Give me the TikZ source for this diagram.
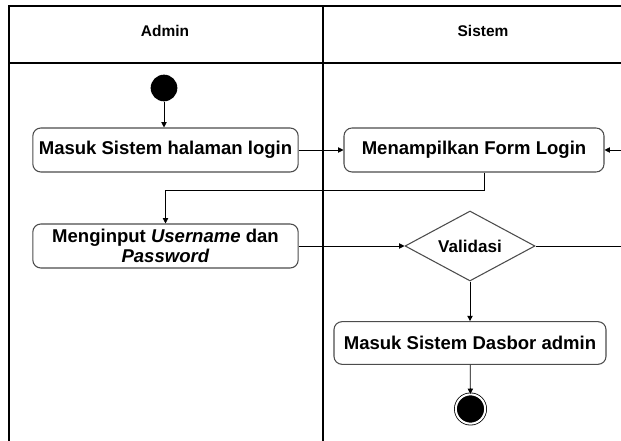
\documentclass[tikz,border=0pt]{standalone}
\usepackage{fontspec}
\setmainfont{Liberation Sans}
\usetikzlibrary{shapes.geometric,arrows.meta}

\tikzset{
  act/.style={draw=black!70, line width=0.8pt, rounded corners=6pt, inner sep=0pt,
    minimum height=33pt, align=center, font=\fontsize{13.9}{15.5}\selectfont\bfseries},
  lanehead/.style={font=\fontsize{11.6}{13}\selectfont\bfseries},
  flow/.style={-{Triangle[length=4pt,width=4pt]}, line width=0.6pt},
  lane/.style={line width=0.8pt}
}

\begin{document}
\begin{tikzpicture}[x=0.75pt,y=-0.75pt]
\useasboundingbox (0,0) rectangle (621,441);

% swimlanes
\draw[lane] (621,6) -- (9,6) -- (9,441);
\draw[lane] (9,63) -- (621,63);
\draw[lane] (323,6) -- (323,441);
\node[lanehead] (admin) at (165,31) {Admin};
\node[lanehead] (sistem) at (483,31) {Sistem};

% start
\node[circle, fill=black, minimum size=20pt, inner sep=0pt] (start) at (164,88) {};

% admin lane
\node[act, minimum width=199pt] (login) at (165.5,150) {Masuk Sistem halaman login};
\node[act, minimum width=199pt] (input) at (165.5,246) {Menginput \textit{Username} dan\\ \textit{Password}};

% sistem lane
\node[act, minimum width=195pt] (form) at (474,150) {Menampilkan Form Login};
\node[diamond, aspect=2, draw=black!70, line width=0.8pt, inner sep=0pt, minimum width=97.5pt,
  minimum height=52.5pt, font=\fontsize{12.8}{14}\selectfont\bfseries] (valid) at (470,246) {Validasi};
\node[act, minimum width=204pt, minimum height=32pt] (dasbor) at (470,343) {Masuk Sistem Dasbor admin};

% end
\node[circle, fill=black, draw=black, line width=0.6pt, double=white, double distance=1.5pt,
  minimum size=22pt, inner sep=0pt] (stop) at (470.5,409) {};

% loose ends at the right edge
\coordinate (backin) at (621,150);
\coordinate (failout) at (621,246);

% flows
\draw[flow] (start) -- (start |- login.north);
\draw[flow] (login) -- (form);
\draw[flow] (backin) -- (form.east);
\draw[flow] ([xshift=7.5pt]form.south) -- ++(0,18) -| (input.north);
\draw[flow] (input) -- (valid);
\draw[line width=0.6pt] (valid.east) -- (failout);
\draw[flow] (valid) -- (dasbor);
\draw[flow] (dasbor) -- (stop);

\end{tikzpicture}
\end{document}
